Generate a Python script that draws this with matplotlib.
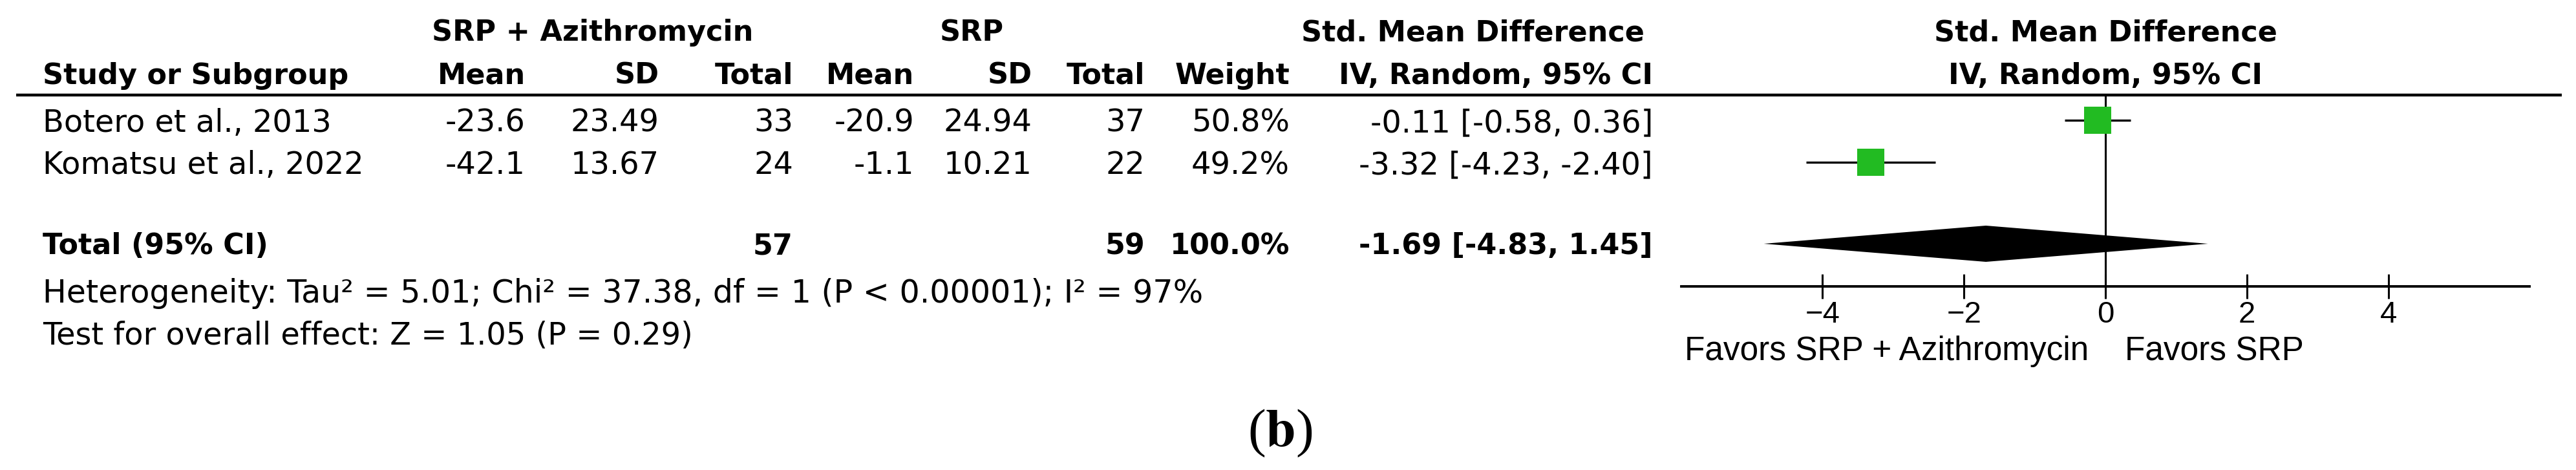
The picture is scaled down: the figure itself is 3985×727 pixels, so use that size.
import numpy as np
import matplotlib
matplotlib.use('Agg')
import matplotlib.pyplot as plt

plt.rcParams['font.family'] = ['DejaVu Sans']
plt.rcParams['mathtext.fontset'] = 'stix'

# data
studies = ['Botero et al., 2013', 'Komatsu et al., 2022']
exp_mean = [-23.6, -42.1]
exp_sd = [23.49, 13.67]
exp_n = [33, 24]
ctl_mean = [-20.9, -1.1]
ctl_sd = [24.94, 10.21]
ctl_n = [37, 22]
weights = [50.8, 49.2]
smd = [-0.11, -3.32]
ci_lo = [-0.58, -4.23]
ci_hi = [0.36, -2.40]

total_exp_n = 57
total_ctl_n = 59
total_weight = 100.0
pooled = [-1.69, -4.83, 1.45]  # estimate, lower, upper

het_text = 'Heterogeneity: Tau\u00b2 = 5.01; Chi\u00b2 = 37.38, df = 1 (P < 0.00001); I\u00b2 = 97%'
overall_text = 'Test for overall effect: Z = 1.05 (P = 0.29)'
x_ticks = [-4, -2, 0, 2, 4]
favors_left = 'Favors SRP + Azithromycin'
favors_right = 'Favors SRP'

# layout (pixels)
W, H = 3985, 727
row_y = [186, 251]
total_y = 377
rule_y = 147
axis_y = 443
zero_px = 3257
unit_px = 109.4
fx0, fx1 = 2590, 3920

FS = 34.5      # regular table text
FSB = 32       # bold table text
green = '#22BB22'

fig = plt.figure(figsize=(W / 100, H / 100), dpi=100)
ax = fig.add_axes([0, 0, 1, 1])
ax.set_xlim(0, W)
ax.set_ylim(H, 0)
ax.axis('off')

# header
hb = dict(fontweight='bold', fontsize=FSB, va='baseline')
ax.text(917, 63, 'SRP + Azithromycin', ha='center', **hb)
ax.text(1503, 63, 'SRP', ha='center', **hb)
ax.text(2278, 63, 'Std. Mean Difference', ha='center', **hb)
ax.text(zero_px, 63, 'Std. Mean Difference', ha='center', **hb)

ax.text(66, 130, 'Study or Subgroup', ha='left', **hb)
col_right = [813, 1020, 1227, 1414, 1597, 1771, 1995, 2557]
col_names = ['Mean', 'SD', 'Total', 'Mean', 'SD', 'Total', 'Weight', 'IV, Random, 95% CI']
for x, name in zip(col_right, col_names):
    ax.text(x, 130, name, ha='right', **hb)
ax.text(zero_px, 130, 'IV, Random, 95% CI', ha='center', **hb)

ax.hlines(rule_y, 25, 3963, color='black', lw=3.2)

# study rows
for i, name in enumerate(studies):
    yb = row_y[i] + 18
    vals = [f'{exp_mean[i]:.1f}', f'{exp_sd[i]:.2f}', f'{exp_n[i]}',
            f'{ctl_mean[i]:.1f}', f'{ctl_sd[i]:.2f}', f'{ctl_n[i]}',
            f'{weights[i]:.1f}%',
            f'{smd[i]:.2f} [{ci_lo[i]:.2f}, {ci_hi[i]:.2f}]']
    ax.text(66, yb, name, ha='left', va='baseline', fontsize=FS)
    for x, v in zip(col_right, vals):
        ax.text(x, yb, v, ha='right', va='baseline', fontsize=FS)

# total row
yb = total_y + 16
ax.text(66, yb, 'Total (95% CI)', ha='left', **hb)
ax.text(col_right[2], yb, f'{total_exp_n}', ha='right', **hb)
ax.text(col_right[5], yb, f'{total_ctl_n}', ha='right', **hb)
ax.text(col_right[6], yb, f'{total_weight:.1f}%', ha='right', **hb)
ax.text(col_right[7], yb, f'{pooled[0]:.2f} [{pooled[1]:.2f}, {pooled[2]:.2f}]', ha='right', **hb)

ax.text(66, 468, het_text, ha='left', va='baseline', fontsize=FS + 0.8)
ax.text(66, 533, overall_text, ha='left', va='baseline', fontsize=FS)

# favours labels and panel tag
ax.text(zero_px - 26, 557, favors_left, ha='right', va='baseline',
        family='Liberation Sans', fontsize=37)
ax.text(zero_px + 30, 557, favors_right, ha='left', va='baseline',
        family='Liberation Sans', fontsize=37)
ax.text(1980, 670, r'($\mathbf{b}$)', ha='center', va='center', family='Liberation Serif', fontsize=60)

# forest plot
axf = fig.add_axes([fx0 / W, 0, (fx1 - fx0) / W, 1])
axf.set_xlim((fx0 - zero_px) / unit_px, (fx1 - zero_px) / unit_px)
axf.set_ylim(H, 0)
axf.patch.set_alpha(0)
for s in ['top', 'left', 'right']:
    axf.spines[s].set_visible(False)
axf.spines['bottom'].set_position(('data', axis_y))
axf.spines['bottom'].set_bounds(-6, 6)
axf.spines['bottom'].set_linewidth(2.8)
axf.set_yticks([])
axf.set_xticks(x_ticks)
axf.tick_params(axis='x', direction='inout', length=27, width=2.2, labelsize=34,
                pad=2, labelfontfamily='Liberation Sans')

axf.vlines(0, rule_y, axis_y, color='black', lw=2.2)
axf.hlines(row_y, ci_lo, ci_hi, color='black', lw=2.4, zorder=2)
side = 42 * np.sqrt(np.array(weights) / 50.0) * 0.72
axf.scatter(smd, row_y, marker='s', s=side ** 2, color=green, linewidths=0, zorder=3)
axf.fill([pooled[1], pooled[0], pooled[2], pooled[0]],
         [total_y, total_y - 28, total_y, total_y + 28], color='black', lw=0, zorder=3)

fig.savefig('out.png', dpi=100)
